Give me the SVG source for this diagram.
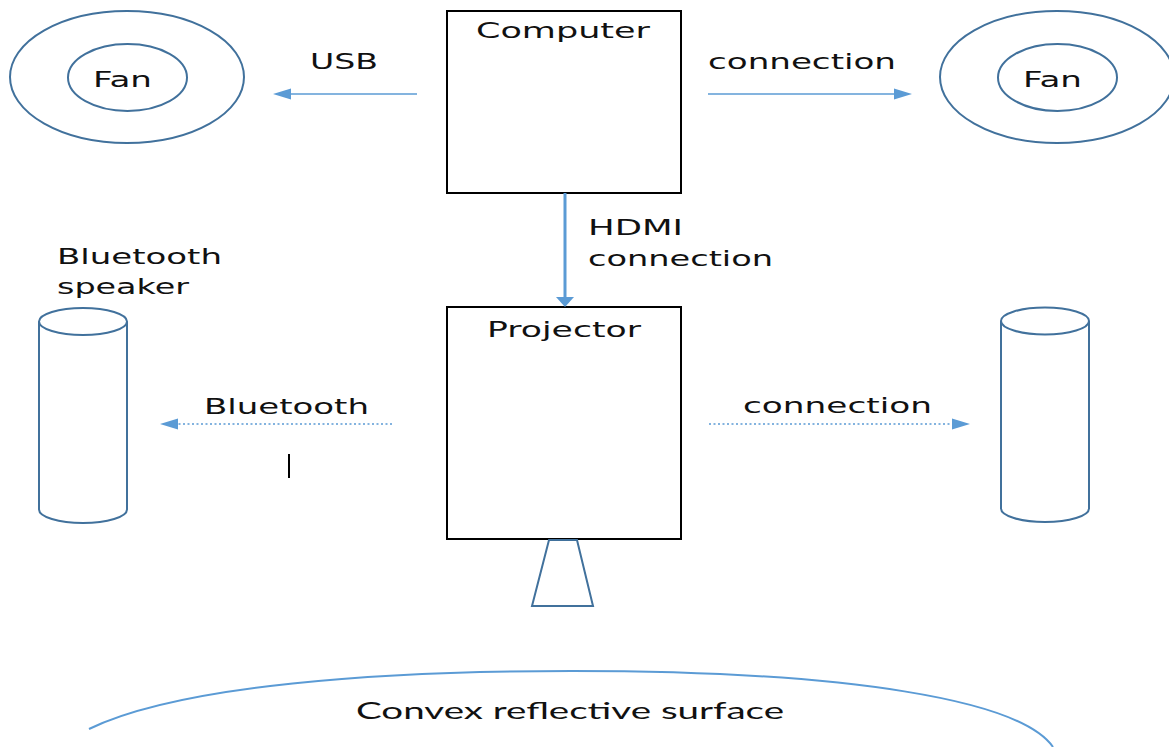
<svg xmlns="http://www.w3.org/2000/svg" width="1169" height="747" viewBox="0 0 1169 747">
  <style>
    .lbl { font-family: "DejaVu Sans", "Liberation Sans", sans-serif; font-size: 21px; fill: #111; }
    .box { fill: #fff; stroke: #000; stroke-width: 2; }
    .shape { fill: none; stroke: #41719C; stroke-width: 2; }
    .wire { fill: none; stroke: #5B9BD5; stroke-width: 1.5; }
    .dotted { fill: none; stroke: #5B9BD5; stroke-width: 1.5; stroke-dasharray: 2 2.5; }
    .head { fill: #5B9BD5; }
  </style>

  <rect width="1169" height="747" fill="#fff"/>

  <!-- fans -->
  <g id="fan-left">
    <ellipse class="shape" cx="127" cy="77" rx="117" ry="66"/>
    <ellipse class="shape" cx="127.5" cy="77.5" rx="59.5" ry="33.5"/>
    <text class="lbl" x="93" y="87" textLength="59" lengthAdjust="spacingAndGlyphs">Fan</text>
  </g>
  <g id="fan-right">
    <ellipse class="shape" cx="1057" cy="77" rx="117" ry="66"/>
    <ellipse class="shape" cx="1057.5" cy="77.5" rx="59.5" ry="33.5"/>
    <text class="lbl" x="1023" y="87" textLength="59" lengthAdjust="spacingAndGlyphs">Fan</text>
  </g>

  <!-- computer -->
  <g id="computer">
    <rect class="box" x="447" y="11" width="234" height="182"/>
    <text class="lbl" x="476" y="38" textLength="174" lengthAdjust="spacingAndGlyphs">Computer</text>
  </g>

  <!-- projector with lens -->
  <g id="projector">
    <rect class="box" x="447" y="307" width="234" height="232"/>
    <text class="lbl" x="487" y="337" textLength="154" lengthAdjust="spacingAndGlyphs">Projector</text>
  </g>
  <g id="lens">
    <polygon class="shape" points="549,540 577,540 593,606 532,606"/>
  </g>

  <!-- speakers -->
  <g id="speaker-left">
    <path class="shape" d="M39,321.5 L39,509.5 A44,13.5 0 0 0 127,509.5 L127,321.5"/>
    <ellipse class="shape" cx="83" cy="321.5" rx="44" ry="13.5"/>
    <text class="lbl" x="57" y="264" textLength="165" lengthAdjust="spacingAndGlyphs">Bluetooth</text>
    <text class="lbl" x="57" y="294" textLength="132" lengthAdjust="spacingAndGlyphs">speaker</text>
  </g>
  <g id="speaker-right">
    <path class="shape" d="M1001,321 L1001,508.5 A44,13.5 0 0 0 1089,508.5 L1089,321"/>
    <ellipse class="shape" cx="1045" cy="321" rx="44" ry="13.5"/>
  </g>

  <!-- reflective surface -->
  <g id="surface">
    <path d="M89,729 C180,685 380,671 572,671 C850,671 1020,700 1053,747" fill="none" stroke="#5B9BD5" stroke-width="2"/>
    <text x="356" y="719" textLength="428" lengthAdjust="spacingAndGlyphs" font-family="Lato, 'Liberation Sans', sans-serif" font-size="24" fill="#111">Convex reflective surface</text>
  </g>

  <!-- connectors -->
  <g id="connectors">
    <!-- USB to left fan -->
    <line class="wire" x1="417" y1="94" x2="289" y2="94"/>
    <polygon class="head" points="273,94 291,88.5 291,99.5"/>
    <text class="lbl" x="310" y="69" textLength="68" lengthAdjust="spacingAndGlyphs">USB</text>

    <!-- connection to right fan -->
    <line class="wire" x1="708" y1="94" x2="896" y2="94"/>
    <polygon class="head" points="912,94 894,88.5 894,99.5"/>
    <text class="lbl" x="708" y="69" textLength="188" lengthAdjust="spacingAndGlyphs">connection</text>

    <!-- HDMI computer to projector -->
    <line x1="565" y1="193" x2="565" y2="298" stroke="#5B9BD5" stroke-width="3"/>
    <polygon class="head" points="565,307 556,297 574,297"/>
    <text class="lbl" x="588" y="235" textLength="95" lengthAdjust="spacingAndGlyphs">HDMI</text>
    <text class="lbl" x="588" y="266" textLength="185" lengthAdjust="spacingAndGlyphs">connection</text>

    <!-- bluetooth to left speaker -->
    <line class="dotted" x1="392" y1="424" x2="176" y2="424"/>
    <polygon class="head" points="160,424 178,418.5 178,429.5"/>
    <text class="lbl" x="204" y="414" textLength="165" lengthAdjust="spacingAndGlyphs">Bluetooth</text>

    <!-- bluetooth to right speaker -->
    <line class="dotted" x1="709" y1="424" x2="954" y2="424"/>
    <polygon class="head" points="970,424 952,418.5 952,429.5"/>
    <text class="lbl" x="743" y="413" textLength="189" lengthAdjust="spacingAndGlyphs">connection</text>
  </g>

  <!-- text cursor mark -->
  <line x1="289" y1="454" x2="289" y2="478" stroke="#000" stroke-width="2"/>
</svg>
